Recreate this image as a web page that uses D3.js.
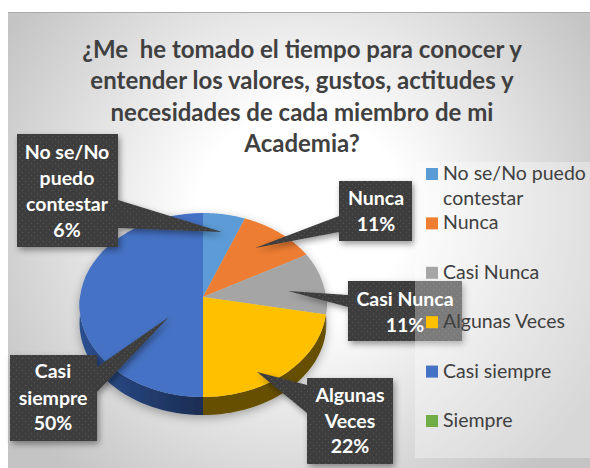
<!DOCTYPE html>
<html><head><meta charset="utf-8">
<script src="https://cdn.jsdelivr.net/npm/d3@7"></script>
<style>html,body{margin:0;padding:0;background:#fff}svg{display:block}text{font-family:Lato,"Open Sans",sans-serif}</style>
</head><body><svg id="c" width="590" height="468"></svg>
<script>
const categories = ["No se/No puedo contestar","Nunca","Casi Nunca","Algunas Veces","Casi siempre","Siempre"];
const values = [6,11,11,22,50,0];
const titleLines = ["¿Me  he tomado el tiempo para conocer y","entender los valores, gustos, actitudes y","necesidades de cada miembro de mi","Academia?"];
const labelLines = [["No se/No","puedo","contestar"],["Nunca"],["Casi Nunca"],["Algunas","Veces"],["Casi","siempre"]];
const legendLines = [["No se/No puedo","contestar"],["Nunca"],["Casi Nunca"],["Algunas Veces"],["Casi siempre"],["Siempre"]];
const colors = ["#5b9bd5","#ed7d31","#a5a5a5","#ffc000","#4472c4","#70ad47"];
const sideColors = ["#2f5b85","#8e4b1d","#636363","#665000","#1f3864","#43682b"];

// Layout of the annotation boxes (not data)
const callouts = [
 {x:17,y:134,w:101,h:113,tip:[222,232],base:[[118,200],[118,228]],cx:67,ys:[159,185,211,237]},
 {x:339,y:181,w:73,h:60,tip:[255,248],base:[[339,216],[339,232]],cx:376,ys:[205,231]},
 {x:348,y:281,w:114,h:60,tip:[288,291],base:[[348,295],[348,307]],cx:405,ys:[306,332]},
 {x:307,y:378,w:86,h:86,tip:[257,372],base:[[307,385],[307,413]],cx:350,ys:[402,428,453]},
 {x:10,y:355,w:87,h:86,tip:[169,317],base:[[97,367],[97,392]],cx:53,ys:[378,405,430]}
];
// Tilted pie: apex position, radii, perspective strength, rim thickness
const cx=203, cy=297, rx=123, ry=91.3, persp=0.087, depth=18;

const svg=d3.select("#c");
const defs=svg.append("defs");
const bg=defs.append("radialGradient").attr("id","bg").attr("gradientUnits","userSpaceOnUse")
  .attr("cx",300).attr("cy",215).attr("r",345);
bg.append("stop").attr("offset",0.3).attr("stop-color","#ffffff");
bg.append("stop").attr("offset",1).attr("stop-color","#c4c4c4");
const pat=defs.append("pattern").attr("id","dots").attr("width",6).attr("height",6).attr("patternUnits","userSpaceOnUse");
pat.append("rect").attr("width",6).attr("height",6).attr("fill","#3e3e3e");
pat.append("circle").attr("cx",1.5).attr("cy",1.5).attr("r",0.7).attr("fill","#555");
pat.append("circle").attr("cx",4.5).attr("cy",4.5).attr("r",0.7).attr("fill","#555");
const sh=defs.append("filter").attr("id","shadow").attr("x","-20%").attr("y","-20%").attr("width","150%").attr("height","150%");
sh.append("feDropShadow").attr("dx",2).attr("dy",3).attr("stdDeviation",3).attr("flood-color","#000").attr("flood-opacity",0.4);
const ps=defs.append("filter").attr("id","pieShadow").attr("x","-20%").attr("y","-20%").attr("width","140%").attr("height","140%");
ps.append("feDropShadow").attr("dx",0).attr("dy",3).attr("stdDeviation",5).attr("flood-color","#000").attr("flood-opacity",0.3);
const sg=defs.append("linearGradient").attr("id","sideBlue").attr("gradientUnits","userSpaceOnUse")
  .attr("x1",cx-rx).attr("x2",cx).attr("y1",0).attr("y2",0);
sg.append("stop").attr("offset",0).attr("stop-color","#2c4f91");
sg.append("stop").attr("offset",1).attr("stop-color","#1a2d52");

svg.append("rect").attr("x",8).attr("y",12).attr("width",582).attr("height",456).attr("fill","url(#bg)");
svg.append("rect").attr("x",8).attr("y",12).attr("width",582).attr("height",1).attr("fill","#aaa");

// Title
svg.append("g").selectAll("text").data(titleLines).join("text")
  .attr("x",302).attr("y",(d,i)=>[58,89,121,152][i]).attr("text-anchor","middle")
  .attr("font-size",24).attr("font-weight",700).attr("fill","#404040")
  .style("white-space","pre").text(d=>d);

// Pie
const pie=d3.pie().sort(null).value(d=>d)(values);
const w=a=>1+persp*Math.cos(a);
const px=a=>cx+rx*Math.sin(a)/w(a), py=a=>cy-ry*Math.cos(a)/w(a);
const samples=(a0,a1)=>d3.range(0,41).map(k=>a0+(a1-a0)*k/40);
const pieG=svg.append("g").attr("filter","url(#pieShadow)");
const line=d3.line();
pie.forEach((d,i)=>{
  const a0=Math.max(d.startAngle,Math.PI/2), a1=Math.min(d.endAngle,3*Math.PI/2);
  if(a1<=a0) return;
  const as=samples(a0,a1);
  const pts=as.map(a=>[px(a),py(a)]).concat(as.slice().reverse().map(a=>[px(a),py(a)+depth]));
  pieG.append("path").attr("d",line(pts)+"Z").attr("fill",i===4?"url(#sideBlue)":sideColors[i]);
});
pieG.selectAll("path.slice").data(pie).join("path").attr("class","slice")
  .attr("d",d=>d.endAngle>d.startAngle?line([[cx,cy]].concat(samples(d.startAngle,d.endAngle).map(a=>[px(a),py(a)])))+"Z":null)
  .attr("fill",(d,i)=>colors[i]);

// Callouts
const pathFor=c=>{
  const p=d3.path();
  p.rect(c.x,c.y,c.w,c.h);
  p.moveTo(c.base[0][0],c.base[0][1]); p.lineTo(c.tip[0],c.tip[1]); p.lineTo(c.base[1][0],c.base[1][1]); p.closePath();
  return p.toString();
};
svg.append("g").selectAll("path").data(callouts).join("path")
  .attr("d",pathFor).attr("fill","url(#dots)").attr("filter","url(#shadow)");

// Legend box sits over the callouts
svg.append("rect").attr("x",415).attr("y",162).attr("width",175).attr("height",296).attr("fill","#fff").attr("fill-opacity",0.32);

const labels=svg.append("g");
callouts.forEach((c,i)=>{
  const pct=d3.format(".0f")(values[i])+"%";
  labelLines[i].concat([pct]).forEach((t,j)=>{
    labels.append("text").attr("x",c.cx).attr("y",c.ys[j]).attr("text-anchor","middle")
      .attr("font-size",19.5).attr("font-weight",700).attr("fill","#fff").text(t);
  });
});

// Legend
const legY=d3.scalePoint().domain(categories).range([174,421]);
const leg=svg.append("g").selectAll("g").data(categories).join("g");
leg.append("rect").attr("x",426).attr("y",d=>legY(d)-6).attr("width",12).attr("height",12).attr("fill",(d,i)=>colors[i]);
leg.each(function(d,i){
  legendLines[i].forEach((t,j)=>{
    d3.select(this).append("text").attr("x",443).attr("y",legY(d)+6+j*25)
      .attr("font-size",19.5).attr("fill","#404040").text(t);
  });
});
</script></body></html>
